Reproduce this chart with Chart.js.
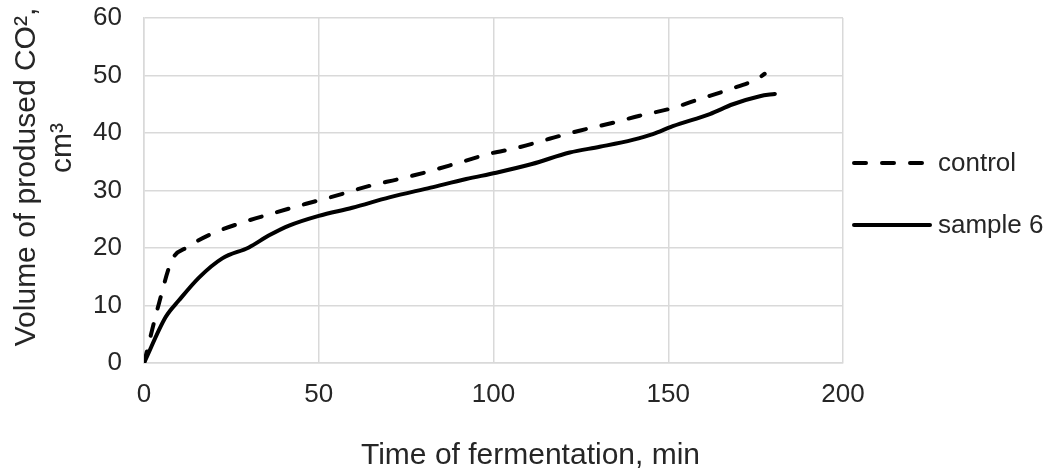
<!DOCTYPE html>
<html>
<head>
<meta charset="utf-8">
<script src="https://cdn.jsdelivr.net/npm/chart.js@4/dist/chart.umd.min.js"></script>
<style>
  html, body { margin: 0; padding: 0; background: #fff; }
  #wrap { width: 1048px; height: 470px; }
</style>
</head>
<body>
<div id="wrap"><canvas id="co2Chart" width="1048" height="470"></canvas></div>
<script>
// values
const controlTime = [0, 4.3, 8, 12.3, 19.5, 28, 37.8, 46.4, 55, 64.5, 73, 80.8, 89.4, 98.9, 106.6, 116, 124.6, 133, 141.8, 150.4, 159, 167.6, 175.4, 177.6];
const controlVol = [0, 10.4, 17.9, 20.1, 22.5, 24.4, 26.2, 27.7, 29.1, 30.8, 32, 33.2, 34.7, 36.4, 37.4, 39, 40.4, 41.6, 43, 44.2, 45.9, 47.6, 49.4, 50.3];

const sampleTime = [0, 6.2, 10, 15.8, 22.4, 30, 35.8, 41.5, 50, 59.6, 70.2, 82, 92.2, 100.8, 111, 121.8, 130.4, 139.8, 145.6, 151.3, 161.9, 168.5, 176.2, 180.5];
const sampleVol = [0, 8, 10.9, 14.9, 18.2, 20.1, 22.2, 23.9, 25.6, 27, 28.8, 30.5, 32, 33.1, 34.6, 36.6, 37.6, 38.8, 39.8, 41.2, 43.3, 45, 46.4, 46.8];

const seriesNames = ['control', 'sample 6'];
const xTitle = 'Time of fermentation, min';
const yTitle = ['Volume of prodused CO\u00b2,', 'cm\u00b3'];

const toPoints = (xs, ys) => xs.map((x, i) => ({ x: x, y: ys[i] }));

const textColor = '#262626';
const gridColor = '#d9d9d9';
const fontFamily = '"Liberation Sans", Arial, sans-serif';

// legend at the right (line sample + label) and the two axis titles,
// placed where the original has them (not quite centred on the plot)
const sideText = {
    id: 'sideText',
    afterDraw(chart) {
        const c = chart.ctx;
        const area = chart.chartArea;
        const rows = [163, 225];
        chart.data.datasets.forEach((ds, i) => {
            const x0 = area.right + 11;
            const x1 = x0 + 76;
            c.save();
            c.strokeStyle = ds.borderColor;
            c.lineWidth = ds.borderWidth;
            c.lineCap = ds.borderCapStyle || 'butt';
            c.setLineDash(ds.borderDash || []);
            c.beginPath();
            c.moveTo(x0, rows[i]);
            c.lineTo(x1, rows[i]);
            c.stroke();
            c.setLineDash([]);
            c.fillStyle = textColor;
            c.font = '26px ' + fontFamily;
            c.textBaseline = 'middle';
            c.fillText(ds.label, x1 + 8, rows[i] + 1);
            c.restore();
        });

        c.save();
        c.fillStyle = textColor;
        c.font = '30px ' + fontFamily;
        c.textAlign = 'center';
        c.textBaseline = 'alphabetic';
        c.fillText(xTitle, (area.left + area.right) / 2 + 37, 464);

        // y title, rotated
        const yCentres = [[35, 177], [71, 148]];
        c.textBaseline = 'alphabetic';
        yTitle.forEach((line, i) => {
            c.save();
            c.translate(yCentres[i][0], yCentres[i][1]);
            c.rotate(-Math.PI / 2);
            c.fillText(line, 0, 0);
            c.restore();
        });
        c.restore();
    },
};

const ctx = document.getElementById('co2Chart').getContext('2d');
const chart = new Chart(ctx, {
    type: 'scatter',
    data: {
        datasets: [{
            label: seriesNames[0],
            data: toPoints(controlTime, controlVol),
            showLine: true,
            borderColor: '#000',
            backgroundColor: '#000',
            borderWidth: 4,
            borderDash: [12, 16],
            borderCapStyle: 'round',
            pointRadius: 0,
            cubicInterpolationMode: 'monotone',
        }, {
            label: seriesNames[1],
            data: toPoints(sampleTime, sampleVol),
            showLine: true,
            borderColor: '#000',
            backgroundColor: '#000',
            borderWidth: 4,
            borderCapStyle: 'round',
            pointRadius: 0,
            cubicInterpolationMode: 'monotone',
        }],
    },
    options: {
        responsive: false,
        animation: false,
        layout: { padding: { left: 0, right: 205, top: 18, bottom: 0 } },
        plugins: {
            tooltip: { enabled: false },
            legend: { display: false },
        },
        scales: {
            x: {
                type: 'linear',
                min: 0,
                max: 200,
                ticks: {
                    stepSize: 50,
                    color: textColor,
                    padding: 16,
                    font: { family: fontFamily, size: 26 },
                },
                grid: { color: gridColor, lineWidth: 1.5, drawTicks: false },
                border: { color: gridColor, width: 1.5 },
                afterFit: (scale) => { scale.height = 107; },
            },
            y: {
                min: 0,
                max: 60,
                ticks: {
                    stepSize: 10,
                    color: textColor,
                    padding: 22,
                    font: { family: fontFamily, size: 26 },
                },
                grid: { color: gridColor, lineWidth: 1.5, drawTicks: false },
                border: { color: gridColor, width: 1.5 },
                afterFit: (scale) => {
                    scale.width = 144;
                    scale.paddingTop = 0;
                    scale.paddingBottom = 0;
                },
            },
        },
    },
    plugins: [sideText],
});
</script>
</body>
</html>
